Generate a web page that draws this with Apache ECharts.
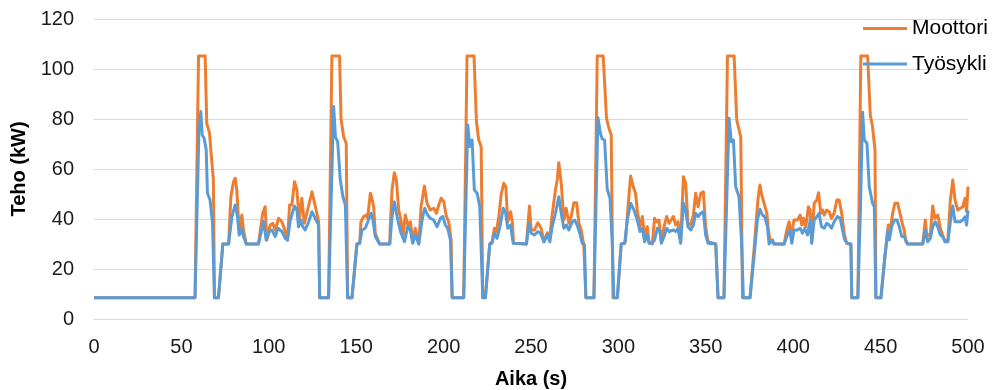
<!DOCTYPE html>
<html>
<head>
<meta charset="utf-8">
<script src="https://cdn.jsdelivr.net/npm/echarts@6/dist/echarts.min.js"></script>
<style>html,body{margin:0;padding:0;background:#fff}#c{width:993px;height:390px}</style>
</head>
<body>
<div id="c"></div>
<script>
const seriesNames = ['Moottori', 'Työsykli'];
const xTicks = [0, 500, 50];
const yTicks = [0, 120, 20];

const tMoottori = [0,57.8,59.8,63.6,64.5,66.1,67,68.3,68.9,71.2,73.7,77,78.3,79.8,80.8,81.7,83.1,84.6,85.5,87.1,94.1,96.5,97.9,98.9,100.8,102.3,103.7,105.6,107.5,109.4,110.7,111.9,113.2,114.7,116.1,117.4,118.9,120.3,122.2,124.7,125.6,127.5,128.5,129.1,134.2,136.1,140.5,141.3,142.8,144.3,145.1,147.6,150.4,152,152.7,154.3,155.8,156.5,158.1,159,160,160.9,163.4,169.2,169.5,170.5,171.8,173,174.3,175.6,176.8,178.1,179.5,181,182.3,183.8,185.8,187.1,189,190.5,192.4,194.4,195.9,197.2,198.6,200.1,201.6,202.9,204.3,204.9,211.5,213.4,217.4,218.8,220.1,221.5,222.4,223.9,226.4,227.7,229.1,230.2,231.6,232.9,234.4,235.6,236.7,238.3,239.4,240,247.4,249.1,250.1,252,253.9,255.8,257.4,259.3,260.8,262.1,264,265,265.9,267.3,268.8,270.1,271.7,273,274.5,276.1,277.4,278.7,280.2,281.4,286,287.9,291.3,293.2,294.6,295.9,296.9,299.4,301.6,303.6,304.1,305.5,307,308.5,309.8,310.8,312.3,313.7,315,316.5,317.5,319.4,320.7,321.9,323.2,324.6,326.1,327.6,329,329.9,331.4,332.8,334.1,335.6,337.2,338.5,339.8,341.4,342.9,344.2,345.6,347.1,348.6,349.9,351.3,355.7,357,360.4,362.4,366.2,367.7,370,371,375.3,377.6,378.6,379.9,381,382,383,383.9,384.9,385.6,386.8,388.1,389,394.8,396.3,397.7,398.6,399.6,400.5,402.4,404,404.9,405.9,407.2,408.7,409.7,410.6,412,413.5,414.5,415.8,416.8,417.7,419.2,420.6,421.9,423.4,425,426.3,427.6,429.2,430.5,433,433.5,437,438.7,442.6,444.1,445.4,446.8,447.3,450.2,452.5,454.4,455.5,456.9,458.2,459.8,461.3,462.6,463.5,464.5,465.5,474.1,475.6,476.5,478.5,479.8,481.1,482.7,484.2,485.5,486.9,488.5,489.9,491.3,492.6,494.1,495.6,497,498.3,499.2,500];
const pMoottori = [8.5,8.5,105.2,105.2,78.3,74.3,66.3,55.6,8.5,8.5,30,30,48.9,54.9,56.3,51.6,34.3,41.6,35.6,30,30,42.3,44.9,31.6,37.6,38.3,35.6,40.3,38.9,35,31.6,45.6,45.6,54.9,51.6,39.6,48.3,38.3,43.6,50.9,50.3,42.3,38.9,8.5,8.5,105.2,105.2,80.3,72.9,70.3,8.5,8.5,30,30.3,38.9,41,41.6,40.3,50.3,48.3,44.9,34.3,30,30,36.9,51.6,58.5,55.6,43.6,39.6,33,41.6,37.6,38.9,30.9,36.3,30,44.9,53.2,46.3,43.6,44.3,42.3,45.6,48.3,46.9,41,38.9,31.6,8.5,8.5,105.2,105.2,78.9,71.6,68.9,8.5,8.5,30,30.9,36.3,35,41,49.6,54.3,52.9,38.9,42.9,38.3,30.3,30,45.2,35.6,35.6,38.5,36.3,30.9,34.5,32.9,41.6,51.6,55.6,62.5,54.3,39.6,44.3,38.3,41,46.5,46.5,38.3,35.6,29.6,8.5,8.5,105.2,105.2,80.3,76.3,73.6,8.5,8.5,30,30.3,31.6,44.9,57.2,52.9,50.3,43.6,36.9,41,33,36.9,30.9,30,40.3,38.9,39.6,30.9,36.9,41,38.3,37.6,41,37.6,38.9,30.9,56.9,54.3,38.3,37.6,41.6,50.3,44.9,50.3,50.9,36.9,30.9,30,8.5,8.5,105.2,105.2,79.6,72.9,8.5,8.5,28,36.9,48.3,53.6,49.6,50.3,44.9,42.3,36.9,30.9,31.6,30,30,35.6,38.9,34.3,36.3,39.6,39.6,41.6,37.6,40.3,36.9,44.9,43.6,30.9,46.3,47.6,50.5,42.3,43.6,41.6,43.6,42.9,40.3,42.3,47.6,47.6,42.9,34.3,30.3,30,8.5,8.5,105.2,105.2,81.6,76.9,67.6,8.5,8.5,25,37.6,35.6,42.3,46.3,46.3,41.6,37.6,35.6,30.9,30,30,39.6,32.9,34.3,45.2,40.3,41.6,36.3,33.6,30.9,31.6,47.6,55.6,47.6,43.6,44.3,44.9,48.3,43,53];

const tTyosykli = [0,57.8,60,61.1,61.9,63,64.2,64.9,66.4,67.8,68.9,71.2,73.7,77,78.9,80.8,82.1,83.1,84.6,85.5,87.1,94.1,97,98.5,100.4,101.8,103.7,105.2,107.5,109.4,110.7,112.3,113.2,114.7,116.1,117,118.4,118.9,120.8,122.8,124.7,125.6,127.5,128.5,129.1,134.2,137.1,138.1,139.4,140,140.9,142.4,143.8,145.1,147.6,150.4,152,153.3,155.2,156,158.5,159.6,160.9,163.4,169.2,170.5,171.8,173.4,175.3,176.2,177.6,179.5,181,182.3,183.8,185.8,187.7,189.2,190.9,192.4,194.3,196.3,198.2,199.5,201,202.3,203.9,204.9,211.5,213.8,215,216.3,217.6,219.2,220.7,222.4,223.9,226.4,227.7,229.1,230.6,232.2,234.1,235.4,236.7,238.3,239.8,247.4,248.8,250.1,252,253.9,255.4,257.4,259.3,260.8,262.1,264,265.9,267.3,268.8,270.3,271.7,273.6,274.9,276.4,277.9,279.3,280.6,281.4,286,288.3,289.8,290.8,292.1,293.6,295.2,296.5,297.4,299.4,301.6,303.6,305.1,307,308.9,310.8,312.3,313.7,315,316.5,317.5,319.4,320.7,322.3,323.6,324.6,326.1,327.6,329,329.9,331.4,332.8,334.1,335.6,337.2,338.5,339.8,341.4,342.9,344.2,345.6,347.1,348.6,349.9,351.3,355.7,357,360.4,363.3,364.6,365.8,367.1,369,370.4,371.5,375.3,377.6,379.5,381,382.4,383.7,385.3,386.2,388.1,389,394.8,396.7,398,399.2,400.5,402.4,404,405.3,406.6,408.2,409.7,410.6,412,413.5,414.8,416.2,417.7,419.2,420.6,421.9,423.4,425.3,426.9,428.2,429.5,431.5,433,433.5,437,438.5,439.7,440.7,442.2,443.5,445.4,446.4,447.3,450.2,452,454,455,456.3,457.9,459.4,460.7,462.1,463.5,465.5,474.1,475.6,476.9,478.5,479.8,481.3,482.7,484.2,485.5,486.9,488.5,489.9,491.3,492.6,494.1,495.6,497,498.3,499.2,500];
const pTyosykli = [8.5,8.5,75,83,73.6,72.3,67.6,50.3,47.6,38.3,8.5,8.5,30,30,41,45.6,41,33.6,36.3,33,30,30,39,31.6,35,35.6,33,36.3,35,32.3,31.6,39.6,39.6,45.2,43.6,36.9,39.6,37.6,35.6,38.9,42.9,42.3,38.9,37.6,8.5,8.5,85,72.9,70.9,71.5,55.6,48.9,45.6,8.5,8.5,30,30.3,35.6,36.3,35.6,42.3,39.6,33,30,30,41,46.9,41,35,35.6,30.9,36.9,35.6,30.3,33.6,30,39.6,44.3,41.6,40.3,39.6,36.9,40.3,41,37.6,36.3,31.6,8.5,8.5,77.6,69,71.6,51.6,50.3,44.9,8.5,8.5,30,30.3,34.3,32.3,36.9,44.3,42.9,36.3,37.6,30.3,30,38.3,34.3,33.6,35,34.3,30.9,33.6,30.9,36.9,42.3,48.9,42.3,36.3,37.6,35.6,38.9,39.6,37.6,34.3,30.3,29.6,8.5,8.5,80.5,74,72,71.6,52,48.3,30.3,8.5,8.5,30,30.3,39.6,46.3,43.6,39.6,35,36.3,30.9,33.6,30.3,30.3,31.6,36.3,35.6,30.3,33,36.3,35,34.3,35.6,35,36.3,30.3,46.3,43.6,36.9,35.6,37.6,42.3,40.9,42.3,42.9,33.6,30.3,30,8.5,8.5,80.3,70.9,71.6,52.9,48.9,31.6,8.5,8.5,25,39.6,43.9,41.6,40.9,36.9,30,31.6,30,30,33.6,35.6,30.3,35.6,35.6,36.3,34.3,36.3,33.6,39.6,30.3,39.6,40.9,42.3,36.9,36.3,38.3,37.6,36.3,38.9,41,40.3,35.6,31.6,30,30,8.5,8.5,45,82.7,71.6,70.3,52.9,46.3,44.9,8.5,8.5,22,35,31.6,36.9,39.6,39.6,36.9,33,33,30,30,35.6,30.9,32.3,36.9,38.9,36.9,33.6,33,30.9,30.9,38.9,45.2,38.9,38.9,38.9,39.6,40.9,37.6,43.5];

const pairs = (t, p) => t.map((x, i) => [x, p[i]]);
const font = '"Liberation Sans", Arial, sans-serif';
const chart = echarts.init(document.getElementById('c'), null, {renderer: 'canvas'});
chart.setOption({
  animation: false,
  backgroundColor: '#fff',
  grid: {left: 94, right: 25, top: 19, bottom: 71, containLabel: false, outerBoundsMode: 'none'},
  legend: {
    orient: 'vertical', left: 858, top: 13, padding: 5,
    icon: 'rect', itemWidth: 44, itemHeight: 3, itemGap: 14.6,
    data: seriesNames,
    textStyle: {fontFamily: font, fontSize: 21, color: '#000', lineHeight: 18}
  },
  xAxis: {
    type: 'value', min: xTicks[0], max: xTicks[1], interval: xTicks[2],
    name: 'Aika (s)', nameLocation: 'middle', nameGap: 50,
    nameTextStyle: {fontFamily: font, fontSize: 20, fontWeight: 'bold', color: '#000'},
    axisLine: {show: false}, axisTick: {show: false}, splitLine: {show: false},
    axisLabel: {fontFamily: font, fontSize: 20, color: '#1a1a1a', margin: 18}
  },
  yAxis: {
    type: 'value', min: yTicks[0], max: yTicks[1], interval: yTicks[2],
    name: 'Teho (kW)', nameLocation: 'middle', nameGap: 55,
    nameTextStyle: {fontFamily: font, fontSize: 20, fontWeight: 'bold', color: '#000'},
    axisLine: {show: false}, axisTick: {show: false},
    splitLine: {lineStyle: {color: '#d9d9d9', width: 1}},
    axisLabel: {fontFamily: font, fontSize: 20, color: '#1a1a1a', margin: 20}
  },
  series: [
    {name: seriesNames[0], type: 'line', data: pairs(tMoottori, pMoottori), symbol: 'none',
     lineStyle: {color: '#ED7D31', width: 3, join: 'round'}, itemStyle: {color: '#ED7D31'}},
    {name: seriesNames[1], type: 'line', data: pairs(tTyosykli, pTyosykli), symbol: 'none',
     lineStyle: {color: '#5B9BD5', width: 3, join: 'round'}, itemStyle: {color: '#5B9BD5'}}
  ]
});
</script>
</body>
</html>
